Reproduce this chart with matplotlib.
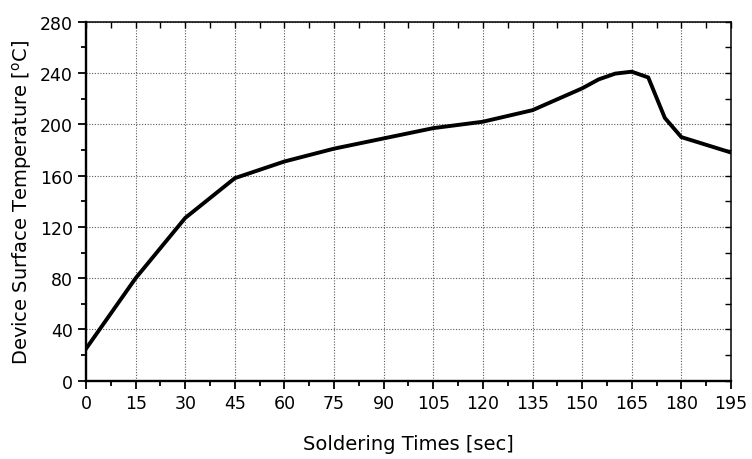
import numpy as np
import matplotlib.pyplot as plt
from matplotlib.ticker import MultipleLocator

times = [0, 15, 30, 45, 60, 75, 90, 105, 120, 135, 150, 155, 160, 165, 170, 175, 180, 195]
temps = [25, 80, 127, 158, 171, 181, 189, 197, 202, 211, 228, 235, 239.5, 241, 236.5, 205, 190, 178]

fig = plt.figure(figsize=(7.52, 4.60), dpi=100)
ax = fig.add_axes([0.1144, 0.170, 0.8576, 0.7807])

ax.plot(times, temps, color='black', lw=2.8, solid_joinstyle='miter', zorder=3)

ax.set_xlim(0, 195)
ax.set_ylim(0, 280)
ax.xaxis.set_major_locator(MultipleLocator(15))
ax.xaxis.set_minor_locator(MultipleLocator(7.5))
ax.yaxis.set_major_locator(MultipleLocator(40))
ax.yaxis.set_minor_locator(MultipleLocator(20))

ax.grid(True, which='major', color='0.35', linestyle=(0, (1, 1.5)), lw=0.8)
ax.tick_params(which='both', direction='out', labelsize=12.5, width=1.3)
ax.tick_params(which='major', length=6)
ax.tick_params(which='minor', length=3.5)
for s in ['left', 'bottom']:
    ax.spines[s].set_linewidth(1.7)
for s in ['top', 'right']:
    ax.spines[s].set_linewidth(1.1)

# top/right: inward ticks, no labels
ax2 = ax.twinx()
ax2.set_ylim(0, 280)
ax2.yaxis.set_major_locator(MultipleLocator(40))
ax2.yaxis.set_minor_locator(MultipleLocator(20))
ax2.tick_params(which='both', direction='in', labelright=False, width=1.0, length=4)
ax3 = ax.twiny()
ax3.set_xlim(0, 195)
ax3.xaxis.set_major_locator(MultipleLocator(15))
ax3.xaxis.set_minor_locator(MultipleLocator(7.5))
ax3.tick_params(which='both', direction='in', labeltop=False, width=1.0, length=4)
for a in (ax2, ax3):
    for s in a.spines.values():
        s.set_visible(False)

ax.set_xlabel('Soldering Times [sec]', fontsize=14, labelpad=16)
ax.set_ylabel(r'Device Surface Temperature [$^{\mathrm{o}}$C]', fontsize=14, labelpad=4)

fig.savefig('out.png', dpi=100)
